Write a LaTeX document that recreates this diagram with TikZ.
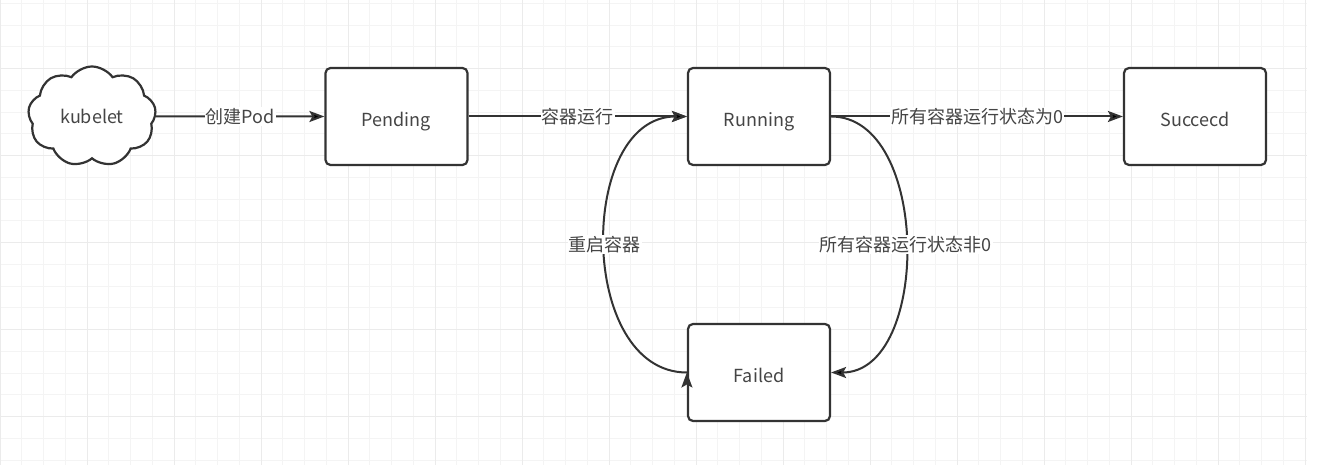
\documentclass[tikz,border=0pt]{standalone}
\usepackage{fontspec}
\setmainfont{Noto Sans CJK SC}
\usetikzlibrary{arrows.meta, positioning, shapes.symbols}
\definecolor{linegray}{HTML}{333333}
\definecolor{textgray}{HTML}{454545}
\definecolor{gridminor}{HTML}{F4F4F4}
\definecolor{gridmajor}{HTML}{EBEBEB}

\begin{document}
\begin{tikzpicture}[
        x = 1pt, y = 1pt, on grid,
        >= {Stealth[length = 15pt, width = 11pt, inset = 3pt]},
        every node/.style = {font = \fontsize{18}{20}\selectfont, text = textgray},
        podstate/.style = {draw = linegray, line width = 2.2pt, fill = white, rounded corners = 5pt,
                           minimum width = 142pt, minimum height = 97pt, text height = 20pt, text depth = 0pt},
        transition/.style = {draw = linegray, line width = 2pt},
        edgelabel/.style = {fill = white, inner sep = 1pt}
    ]
      \useasboundingbox (0, 0) rectangle (1334, 465);
      \fill[white] (0, 0) rectangle (1334, 465);

      % background grid
      \foreach \k in {0, ..., 60}
        \draw[gridminor, line width = 1pt] (21.75*\k, 0) -- (21.75*\k, 465);
      \foreach \k in {0, ..., 21}
        \draw[gridminor, line width = 1pt] (0, 461.5-21.75*\k) -- (1307, 461.5-21.75*\k);
      \foreach \k in {0, 4, ..., 60}
        \draw[gridmajor, line width = 1pt] (21.75*\k, 0) -- (21.75*\k, 465);
      \foreach \k in {3, 7, ..., 19}
        \draw[gridmajor, line width = 1pt] (0, 461.5-21.75*\k) -- (1307, 461.5-21.75*\k);

      \node[cloud, cloud puffs = 9, cloud puff arc = 110, aspect = 1.25, draw = linegray, line width = 2.2pt,
            fill = white, minimum width = 128pt, minimum height = 100pt] (kubelet) at (92, 348.5) {kubelet};
      \node[podstate] (pending) [right = 304.5pt of kubelet] {Pending};
      \node[podstate] (running) [right = 362.5pt of pending] {Running};
      \node[podstate] (succeed) [right = 436pt of running] {Succecd};
      \node[podstate] (failed) [below = 256pt of running] {Failed};

      \path[->, transition]
        (kubelet) edge node[edgelabel] {创建Pod} (pending)
        (pending) edge node[edgelabel] {容器运行} (running)
        (running) edge node[edgelabel] {所有容器运行状态为0} (succeed)
        (running.east) edge [out = 0, in = 0, looseness = 1] node[edgelabel] {所有容器运行状态非0} (failed.east)
        (failed.west) edge [out = 180, in = 180, looseness = 1.1] node[edgelabel] {重启容器} (running.west);
    \end{tikzpicture}
\end{document}
